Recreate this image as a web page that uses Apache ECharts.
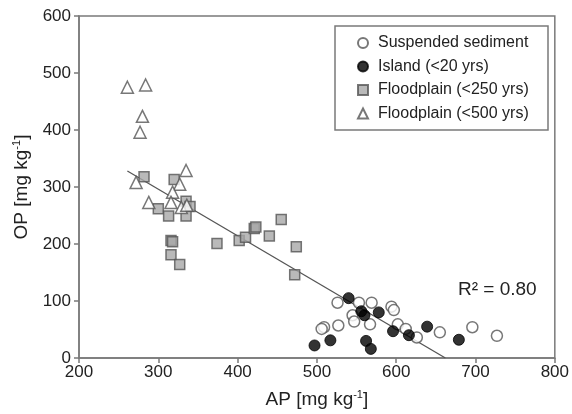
<!DOCTYPE html>
<html><head><meta charset="utf-8">
<script src="https://cdn.jsdelivr.net/npm/echarts@6/dist/echarts.min.js"></script>
<style>html,body{margin:0;padding:0;background:#fff}#c{width:572px;height:414px}</style>
</head><body><div id="c"></div>
<script>
// Suspended sediment (open circles)
const suspendedAP = [526,553,569,594,597,545,547,567,509,506,527,602,612,626,655,696,727];
const suspendedOP = [97,97,97,90,84,75,64,59,54,51,57,59,51,36,45,54,39];
// Island (<20 yrs) (filled circles)
const islandAP = [540,556,560,578,596,616,639,679,497,517,562,568];
const islandOP = [105,82,75,80,47,40,55,32,22,31,30,16];
// Floodplain (<250 yrs) (grey squares)
const fp250AP = [282,320,335,340,300,313,335,316,318,316,327,374,402,410,421,423,440,455,474,472];
const fp250OP = [318,313,275,266,262,249,249,206,204,181,164,201,206,212,227,230,214,243,195,146];
// Floodplain (<500 yrs) (open triangles)
const fp500AP = [261,284,280,277,335,272,327,318,288,316,329,336];
const fp500OP = [475,479,424,396,329,308,305,291,273,273,264,268];
// Regression line endpoints
const fitAP = [261,662];
const fitOP = [328,0];
const xTicks = {min:200,max:800,interval:100};
const yTicks = {min:0,max:600,interval:100};

const zip = (a,b)=>a.map((v,i)=>[v,b[i]]);
const chart = echarts.init(document.getElementById('c'));
const font = 'Liberation Sans, Arial, sans-serif';
const supRich = {s:{fontSize:11,fontFamily:font,color:'#222',verticalAlign:'top',padding:[0,0,10,0]}};
chart.setOption({
  animation:false,
  grid:{left:79,right:16,top:16,bottom:55,show:true,borderColor:'#7a7a7a',borderWidth:1.5,backgroundColor:'transparent'},
  xAxis:{type:'value',min:xTicks.min,max:xTicks.max,interval:xTicks.interval,
    axisLine:{lineStyle:{color:'#7a7a7a',width:1.5}},
    axisTick:{show:true,inside:false,length:5,lineStyle:{color:'#7a7a7a',width:1.5}},
    splitLine:{show:false},
    axisLabel:{color:'#222',fontSize:17,fontFamily:font,margin:6},
    name:'AP [mg kg{s|-1}]',nameLocation:'middle',nameGap:31,
    nameTextStyle:{color:'#222',fontSize:19,fontFamily:font,rich:supRich}
  },
  yAxis:{type:'value',min:yTicks.min,max:yTicks.max,interval:yTicks.interval,
    axisLine:{lineStyle:{color:'#7a7a7a',width:1.5}},
    axisTick:{show:true,inside:false,length:5,lineStyle:{color:'#7a7a7a',width:1.5}},
    splitLine:{show:false},
    axisLabel:{color:'#222',fontSize:17,fontFamily:font,margin:8},
    name:'OP [mg kg{s|-1}]',nameLocation:'middle',nameGap:45,nameRotate:90,
    nameTextStyle:{color:'#222',fontSize:19,fontFamily:font,rich:supRich}
  },
  legend:{orient:'vertical',left:352,top:30,itemGap:7.5,itemWidth:10,itemHeight:10,
    textStyle:{fontSize:16,fontFamily:font,color:'#222',padding:[0,0,0,5]},
    data:['Suspended sediment','Island (<20 yrs)','Floodplain (<250 yrs)','Floodplain (<500 yrs)']},
  graphic:[
    {type:'rect',shape:{x:335,y:26,width:213,height:104},style:{fill:'none',stroke:'#7a7a7a',lineWidth:1.5},z:100},
    {type:'text',left:458,top:280,style:{text:'R² = 0.80',fontSize:19,fontFamily:font,fill:'#222'},z:100}
  ],
  series:[
    {type:'line',data:zip(fitAP,fitOP),symbol:'none',lineStyle:{color:'#555',width:1.3},silent:true,z:1,legendHoverLink:false},
    {name:'Floodplain (<250 yrs)',type:'scatter',data:zip(fp250AP,fp250OP),symbol:'rect',symbolSize:10,
      itemStyle:{color:'#a8a8a8',borderColor:'#555',borderWidth:1.5},z:3},
    {name:'Floodplain (<500 yrs)',type:'scatter',data:zip(fp500AP,fp500OP),symbol:'triangle',symbolSize:12,
      itemStyle:{color:'#fff',borderColor:'#555',borderWidth:1.5},z:4},
    {name:'Suspended sediment',type:'scatter',data:zip(suspendedAP,suspendedOP),symbol:'circle',symbolSize:11,
      itemStyle:{color:'#fff',borderColor:'#555',borderWidth:1.5},z:3},
    {name:'Island (<20 yrs)',type:'scatter',data:zip(islandAP,islandOP),symbol:'circle',symbolSize:11,
      itemStyle:{color:'#000',borderColor:'#000',borderWidth:1},z:4}
  ]
});
</script></body></html>
